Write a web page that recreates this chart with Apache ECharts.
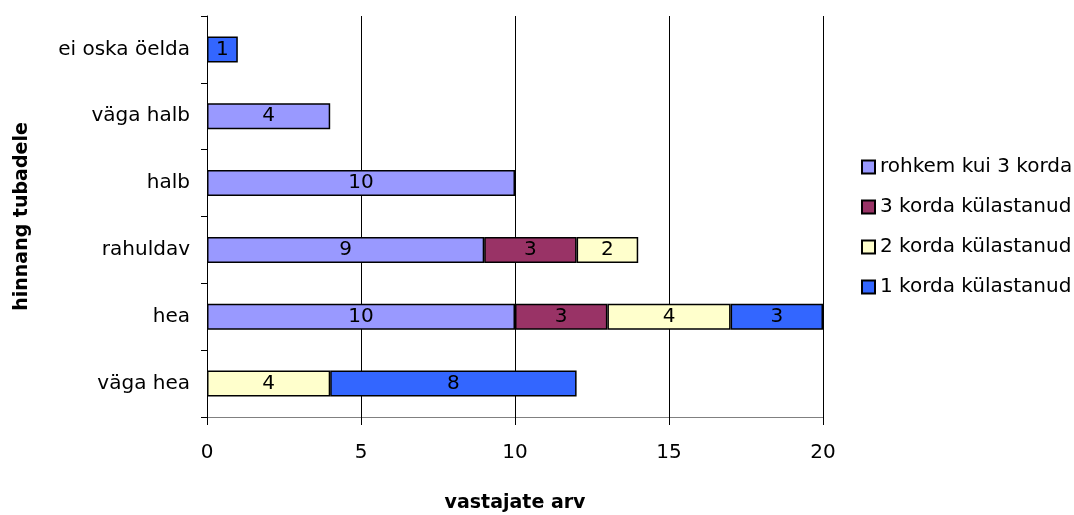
<!DOCTYPE html>
<html>
<head>
<meta charset="utf-8">
<script src="https://cdn.jsdelivr.net/npm/echarts@6/dist/echarts.min.js"></script>
<style>
  html, body { margin: 0; padding: 0; background: #fff; }
  #chart { width: 1074px; height: 515px; }
</style>
</head>
<body>
<div id="chart"></div>
<script>
// Ratings, listed bottom to top
const categories = ['väga hea', 'hea', 'rahuldav', 'halb', 'väga halb', 'ei oska öelda'];
const seriesNames = ['rohkem kui 3 korda', '3 korda külastanud', '2 korda külastanud', '1 korda külastanud'];
const moreThan3 = [null, 10, 9, 10, 4, null];
const visited3 = [null, 3, 3, null, null, null];
const visited2 = [4, 4, 2, null, null, null];
const visited1 = [8, 3, null, null, null, 1];
const xTicks = [0, 5, 10, 15, 20];

const colors = ['#9999FF', '#993366', '#FFFFCC', '#3366FF'];
const values = [moreThan3, visited3, visited2, visited1];
const font = 'DejaVu Sans, Verdana, sans-serif';

const chart = echarts.init(document.getElementById('chart'));
chart.setOption({
  animation: false,
  textStyle: { fontFamily: font },
  grid: {
    left: 207, top: 16, width: 616, height: 401,
    containLabel: false,
    outerBoundsMode: 'none'
  },
  legend: {
    orient: 'vertical',
    left: 856,
    top: 152,
    itemGap: 20,
    itemWidth: 13,
    itemHeight: 13,
    icon: 'rect',
    textStyle: { fontFamily: font, fontSize: 20, color: '#000', padding: [0, 0, 0, 0] },
    data: seriesNames
  },
  xAxis: {
    type: 'value',
    min: xTicks[0],
    max: xTicks[xTicks.length - 1],
    interval: 5,
    name: 'vastajate arv',
    nameLocation: 'middle',
    nameGap: 77,
    nameTextStyle: { fontFamily: font, fontSize: 19, fontWeight: 'bold', color: '#000' },
    axisLine: { show: true, lineStyle: { color: '#808080', width: 1 } },
    axisTick: { show: true, length: 8, lineStyle: { color: '#000' } },
    axisLabel: { fontFamily: font, fontSize: 20, color: '#000', margin: 26 },
    splitLine: { show: true, lineStyle: { color: '#000', width: 1 } }
  },
  yAxis: {
    type: 'category',
    data: categories,
    name: 'hinnang tubadele',
    nameLocation: 'middle',
    nameGap: 175,
    nameRotate: 90,
    nameTextStyle: { fontFamily: font, fontSize: 19, fontWeight: 'bold', color: '#000' },
    axisLine: { show: true, lineStyle: { color: '#000', width: 1 } },
    axisTick: { show: true, length: 6, lineStyle: { color: '#000' } },
    axisLabel: { fontFamily: font, fontSize: 20, color: '#000', margin: 17 },
    splitLine: { show: false }
  },
  series: seriesNames.map((name, i) => ({
    name: name,
    type: 'bar',
    stack: 'total',
    barWidth: 26,
    data: values[i],
    itemStyle: { color: colors[i], borderColor: '#000', borderWidth: 1.5 },
    label: {
      show: true,
      position: 'inside',
      fontFamily: font,
      fontSize: 20,
      color: '#000',
      formatter: p => (p.value == null ? '' : String(p.value))
    }
  }))
});
</script>
</body>
</html>
